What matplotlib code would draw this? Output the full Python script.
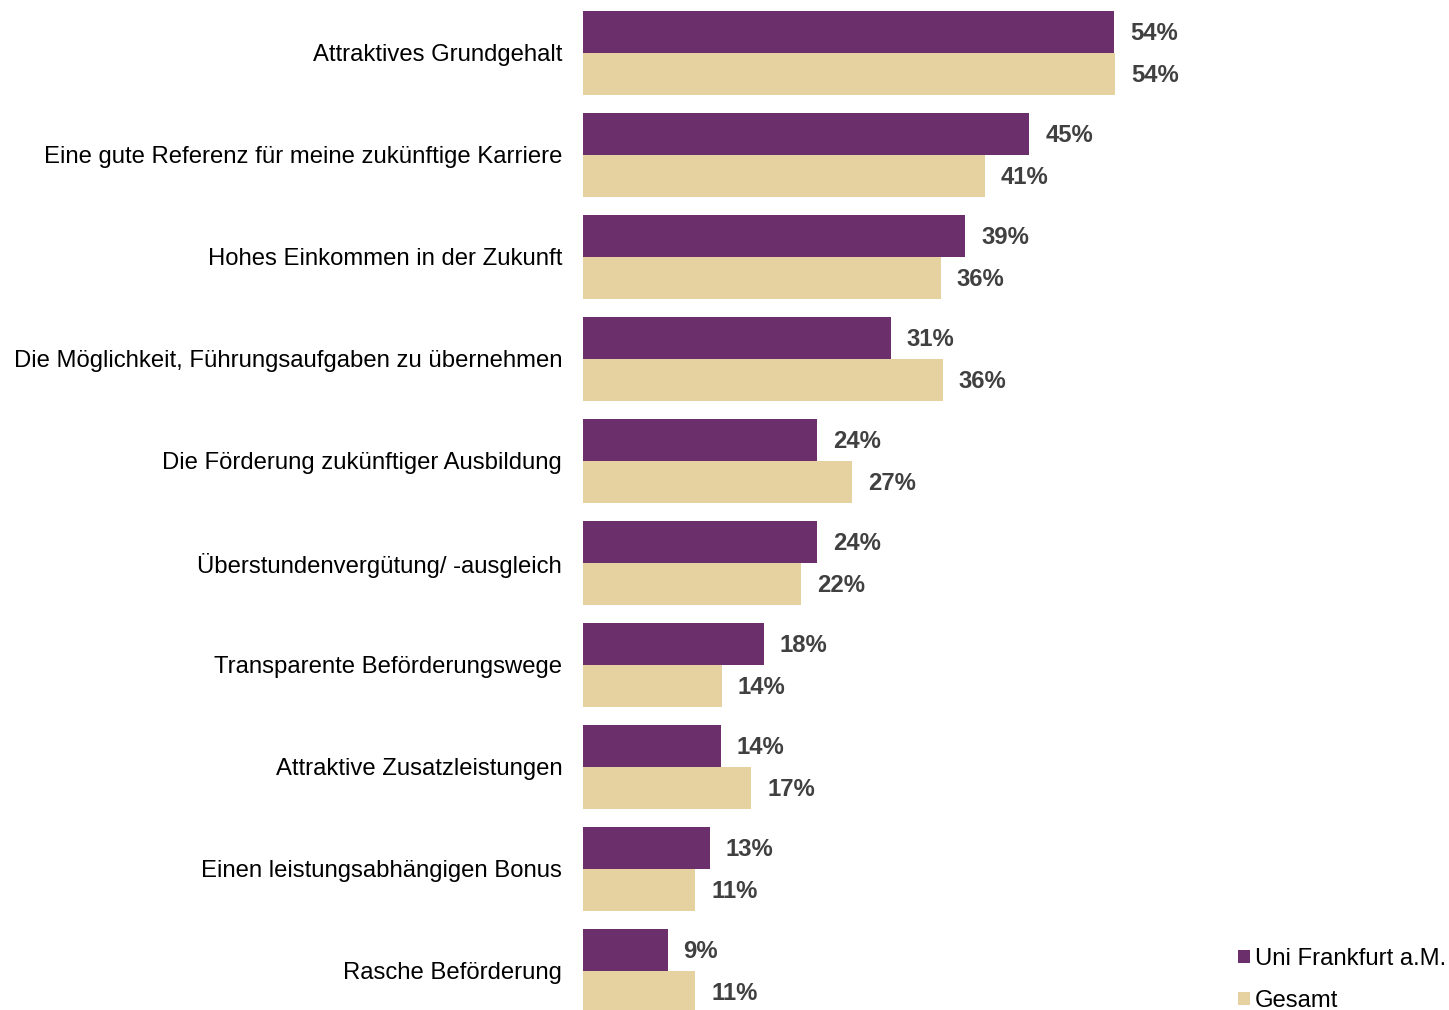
import numpy as np
import matplotlib.pyplot as plt

plt.rcParams['font.family'] = ['Liberation Sans', 'DejaVu Sans']

# Data
categories = [
    'Attraktives Grundgehalt',
    'Eine gute Referenz für meine zukünftige Karriere',
    'Hohes Einkommen in der Zukunft',
    'Die Möglichkeit, Führungsaufgaben zu übernehmen',
    'Die Förderung zukünftiger Ausbildung',
    'Überstundenvergütung/ -ausgleich',
    'Transparente Beförderungswege',
    'Attraktive Zusatzleistungen',
    'Einen leistungsabhängigen Bonus',
    'Rasche Beförderung',
]
uni_vals = [54.0, 45.4, 38.9, 31.3, 23.8, 23.8, 18.4, 14.0, 12.9, 8.6]
ges_vals = [54.1, 40.9, 36.4, 36.6, 27.4, 22.2, 14.1, 17.1, 11.4, 11.4]
uni_labels = ['54%', '45%', '39%', '31%', '24%', '24%', '18%', '14%', '13%', '9%']
ges_labels = ['54%', '41%', '36%', '36%', '27%', '22%', '14%', '17%', '11%', '11%']
series_names = ['Uni Frankfurt a.M.', 'Gesamt']

col_uni = '#6B2F6B'
col_ges = '#E6D2A0'
fs = 17.2

fig = plt.figure(figsize=(14.49, 10.10), dpi=100)
# axes left edge at bar origin (~583 px)
ax = fig.add_axes([583 / 1449, 0.0, 617 / 1449, 1.0])

y = np.arange(len(categories))
h = 0.41
bars_uni = ax.barh(y - h / 2, uni_vals, height=h, color=col_uni, label=series_names[0])
bars_ges = ax.barh(y + h / 2, ges_vals, height=h, color=col_ges, label=series_names[1])

for bars, labs in [(bars_uni, uni_labels), (bars_ges, ges_labels)]:
    for b, lab in zip(bars, labs):
        ax.annotate(lab, (b.get_width(), b.get_y() + b.get_height() / 2),
                    xytext=(16, -2), textcoords='offset pixels',
                    ha='left', va='center', fontsize=fs, fontweight='bold',
                    color='#404040')

ax.set_xlim(0, 617 / 9.83)
top = -h - 11 / 102
ax.set_ylim(top + 1010 / 102, top)

ax.set_yticks(y)
ax.set_yticklabels(categories, fontsize=fs, color='black')
ax.tick_params(axis='y', length=0, pad=15)
ax.set_xticks([])
for s in ax.spines.values():
    s.set_visible(False)

ax.legend(loc='upper left', bbox_to_anchor=(1238 / 1449, 1 - 948 / 1010),
          bbox_transform=fig.transFigure, frameon=False, fontsize=fs,
          handlelength=0.5, handleheight=0.5, handletextpad=0.2,
          labelspacing=0.84, borderaxespad=0, borderpad=0)

fig.savefig('out.png', dpi=100)
